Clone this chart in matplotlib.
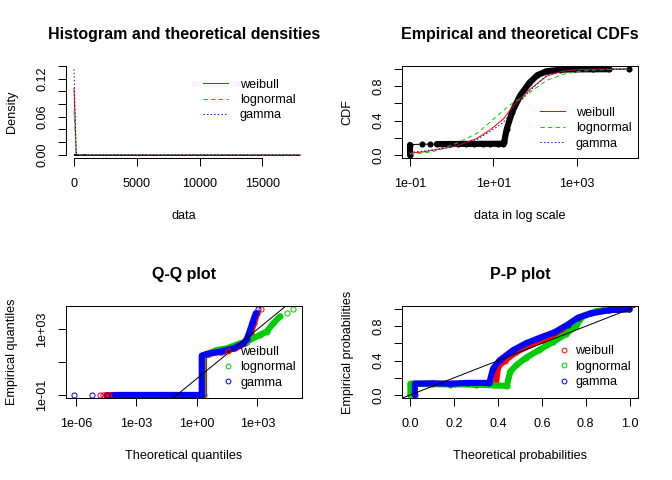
import matplotlib
matplotlib.use("Agg")
import matplotlib.pyplot as plt
from matplotlib.lines import Line2D

plt.rcParams['font.family'] = ['Liberation Sans', 'DejaVu Sans']
plt.rcParams['lines.scale_dashes'] = False
plt.rcParams['axes.linewidth'] = 0.75

DIST_NAMES = ['weibull', 'lognormal', 'gamma']
DIST_COLORS = ['#FF0000', '#00CD00', '#0000FF']
DIST_LINES = ['-', (0, (3.2, 2.5)), (0, (1.0, 1.7))]

# --- histogram and theoretical densities ---
HIST_BREAKS = [0, 1000, 2000, 3000, 4000, 5000, 6000, 7000, 8000, 9000,
               10000, 11000, 12000, 13000, 14000, 15000, 16000, 17000, 18000]
HIST_DENSITY = [0.00099, 0.000005, 0.000002, 0.000001, 0.000001, 0.0, 0.0, 0.0, 0.0,
                0.0, 0.0, 0.0, 0.0, 0.0, 0.0, 0.0, 0.0, 0.000001]
DENS_X = [0.1, 180, 360, 18000]
DENS_WEIBULL = [0.105, 0.0008, 0.0001, 0.0]
DENS_LOGNORMAL = [0.069, 0.0012, 0.0003, 0.0]
DENS_GAMMA = [0.135, 0.0006, 0.0001, 0.0]

# --- empirical and theoretical CDFs ---
ECDF_X = [0.1, 0.1, 0.19, 0.30, 0.44, 0.6, 0.9, 1.4, 2.2, 3.5, 5.5, 8.5, 13, 17.0,
          18.2, 20.9, 28.2, 43.7, 72.9, 114, 191, 398, 900, 2500, 6000, 17500]
ECDF_P = [0.0, 0.12, 0.124, 0.125, 0.126, 0.126, 0.127, 0.127, 0.128, 0.128, 0.129,
          0.129, 0.13, 0.13, 0.15, 0.30, 0.50, 0.69, 0.84, 0.93, 0.976, 0.993, 0.997,
          0.998, 0.999, 1.0]
ECDF_DENSE = [(0, 2), (4, 25)]

CDF_X = [0.1, 0.21, 0.5, 1.3, 4, 8.3, 17.5, 30, 76, 191, 480, 1200, 3000, 17500]
CDF_WEIBULL = [0.02, 0.035, 0.065, 0.104, 0.19, 0.29, 0.42, 0.57, 0.765, 0.92, 0.977, 0.995, 1.0, 1.0]
CDF_LOGNORMAL = [0.01, 0.02, 0.055, 0.135, 0.25, 0.38, 0.52, 0.61, 0.73, 0.87, 0.94, 0.977, 0.99, 1.0]
CDF_GAMMA = [0.03, 0.045, 0.07, 0.105, 0.18, 0.27, 0.38, 0.53, 0.75, 0.93, 0.985, 0.998, 1.0, 1.0]

# --- Q-Q plot: theoretical vs empirical quantiles ---
QQ_WEIBULL_THEO = [1.55e-5, 2.3e-5, 3.2e-5, 2.24, 2.24, 4.0, 17.8, 79, 240, 355, 468, 676, 1000, 1585]
QQ_WEIBULL_EMP = [0.1, 0.1, 0.1, 0.1, 25, 32, 44, 69, 138, 251, 575, 2340, 9550, 17500]
QQ_WEIBULL_DENSE = [(2, 13)]
QQ_LOGNORMAL_THEO = [3e-4, 1.95, 1.95, 3.5, 9.5, 30, 138, 295, 1350, 2900, 6200, 13200, 28200, 61700]
QQ_LOGNORMAL_EMP = [0.1, 0.1, 25, 32, 55, 69, 138, 178, 457, 724, 2340, 6030, 10500, 17500]
QQ_LOGNORMAL_DENSE = [(0, 12)]
QQ_GAMMA_THEO = [7.9e-7, 6.0e-6, 3.3e-5, 5.9e-5, 8.7e-5, 3.2e-4, 0.02, 1.74, 1.74, 3.1, 14, 65,
                 200, 295, 385, 562, 832, 1120]
QQ_GAMMA_EMP = [0.1, 0.1, 0.1, 0.1, 0.1, 0.1, 0.1, 0.1, 25, 32, 44, 69, 138, 251, 575, 2340, 9550, 17500]
QQ_GAMMA_DENSE = [(4, 17)]

# --- P-P plot: theoretical vs empirical probabilities ---
PP_WEIBULL_THEO = [0.01, 0.01, 0.10, 0.20, 0.30, 0.39, 0.40, 0.43, 0.483, 0.544, 0.604, 0.665,
                   0.726, 0.771, 0.82, 0.88, 0.999]
PP_WEIBULL_EMP = [0.0, 0.13, 0.125, 0.13, 0.12, 0.13, 0.33, 0.40, 0.50, 0.577, 0.64, 0.71,
                  0.81, 0.90, 0.95, 0.985, 1.0]
PP_LOGNORMAL_THEO = [0.0, 0.0, 0.08, 0.18, 0.28, 0.38, 0.44, 0.455, 0.483, 0.528, 0.589, 0.65,
                     0.71, 0.756, 0.787, 0.847, 0.90, 0.999]
PP_LOGNORMAL_EMP = [0.0, 0.13, 0.13, 0.12, 0.125, 0.11, 0.105, 0.27, 0.346, 0.434, 0.527, 0.615,
                    0.71, 0.807, 0.92, 0.975, 0.995, 1.0]
PP_GAMMA_THEO = [0.02, 0.02, 0.10, 0.18, 0.26, 0.36, 0.377, 0.407, 0.467, 0.528, 0.589, 0.657,
                 0.718, 0.764, 0.824, 0.908, 0.999]
PP_GAMMA_EMP = [0.0, 0.13, 0.135, 0.13, 0.14, 0.14, 0.307, 0.403, 0.519, 0.603, 0.665, 0.73,
                0.82, 0.90, 0.95, 0.988, 1.0]

W, H, DPI = 672, 480, 96
PLOT_LEFT, PLOT_TOP, PLOT_W, PLOT_H = 65.7, 65.7, 236.6, 92.6
COL_STEP, ROW_STEP = 336, 240
TEXT_SIZE = 9.5
POINT_SIZE = 4.6

fig = plt.figure(figsize=(W / DPI, H / DPI), dpi=DPI)


def panel(col, row, title, xlabel, ylabel):
    left = PLOT_LEFT + col * COL_STEP
    top = PLOT_TOP + row * ROW_STEP
    ax = fig.add_axes([left / W, 1 - (top + PLOT_H) / H, PLOT_W / W, PLOT_H / H])
    cx = (left + PLOT_W / 2) / W
    fig.text(cx, 1 - (top - 26.4) / H, title, ha='center', va='baseline',
             fontsize=12, fontweight='bold')
    fig.text(cx, 1 - (top + 153.6) / H, xlabel, ha='center', va='baseline', fontsize=TEXT_SIZE)
    fig.text((left - 50.9) / W, 1 - (top + PLOT_H / 2) / H, ylabel, rotation=90,
             rotation_mode='anchor', ha='center', va='baseline', fontsize=TEXT_SIZE)
    return ax


def style_ticks(ax):
    ax.tick_params(direction='out', length=6.3, width=0.75, labelsize=TEXT_SIZE, colors='black')
    ax.tick_params(axis='x', pad=8.6)
    ax.tick_params(axis='y', pad=6.8)
    ax.set_xticks([], minor=True)
    ax.set_yticks([], minor=True)


def add_legend(ax, handles, x, y, handlelength, handletextpad):
    ax.legend(handles=handles, labels=DIST_NAMES, loc='upper left', bbox_to_anchor=(x, y),
              frameon=False, fontsize=TEXT_SIZE, handlelength=handlelength,
              handletextpad=handletextpad, labelspacing=0.27, borderpad=0,
              borderaxespad=0, numpoints=1)


def dense_points(ax, xs, ys, ranges, color, filled):
    # many overlapping points read as a solid band, plus the points themselves
    for a, b in ranges:
        ax.plot(xs[a:b], ys[a:b], color=color, lw=POINT_SIZE, solid_capstyle='round',
                solid_joinstyle='round')
    if filled:
        ax.plot(xs, ys, 'o', color=color, ms=POINT_SIZE, mew=0)
    else:
        ax.plot(xs, ys, 'o', mfc='none', mec=color, ms=POINT_SIZE - 0.75, mew=0.75)


line_handles = [Line2D([], [], color=c, ls=s, lw=0.75) for c, s in zip(DIST_COLORS, DIST_LINES)]
point_handles = [Line2D([], [], color=c, ls='none', marker='o', mfc='none', ms=3.6, mew=0.75)
                 for c in DIST_COLORS]

# Histogram and theoretical densities
ax1 = panel(0, 0, 'Histogram and theoretical densities', 'data', 'Density')
widths = [b - a for a, b in zip(HIST_BREAKS[:-1], HIST_BREAKS[1:])]
ax1.bar(HIST_BREAKS[:-1], HIST_DENSITY, width=widths, align='edge', fill=False,
        edgecolor='black', linewidth=0.75)
for dens, c, s in zip([DENS_WEIBULL, DENS_LOGNORMAL, DENS_GAMMA], DIST_COLORS, DIST_LINES):
    ax1.plot(DENS_X, dens, color=c, ls=s, lw=0.75)
ax1.set_xlim(-660, 18180)
ax1.set_ylim(-0.0054, 0.1405)
ax1.spines['top'].set_visible(False)
ax1.spines['right'].set_visible(False)
ax1.spines['left'].set_bounds(0, 0.14)
ax1.spines['bottom'].set_bounds(0, 15000)
ax1.set_xticks([0, 5000, 10000, 15000], labels=['0', '5000', '10000', '15000'])
ax1.set_yticks([0, 0.02, 0.04, 0.06, 0.08, 0.10, 0.12, 0.14],
               labels=['0.00', '', '', '0.06', '', '', '0.12', ''], rotation=90, va='center')
style_ticks(ax1)
add_legend(ax1, line_handles, 0.5816, 0.861, 1.97, 0.92)

# Empirical and theoretical CDFs
ax2 = panel(1, 0, 'Empirical and theoretical CDFs', 'data in log scale', 'CDF')
ax2.set_xscale('log')
ax2.plot(ECDF_X, ECDF_P, color='black', lw=0.75)
dense_points(ax2, ECDF_X, ECDF_P, ECDF_DENSE, 'black', True)
for cdf, c, s in zip([CDF_WEIBULL, CDF_LOGNORMAL, CDF_GAMMA], DIST_COLORS, DIST_LINES):
    ax2.plot(CDF_X, cdf, color=c, ls=s, lw=0.75, zorder=3)
ax2.set_xlim(10 ** -1.199, 10 ** 4.478)
ax2.set_ylim(-0.04, 1.04)
ax2.set_xticks([0.1, 10, 1000], labels=['1e-01', '1e+01', '1e+03'])
ax2.set_yticks([0, 0.2, 0.4, 0.6, 0.8, 1.0], labels=['0.0', '', '0.4', '', '0.8', ''],
               rotation=90, va='center')
style_ticks(ax2)
add_legend(ax2, line_handles, 0.5845, 0.5567, 1.97, 0.845)

# Q-Q plot
ax3 = panel(0, 1, 'Q-Q plot', 'Theoretical quantiles', 'Empirical quantiles')
ax3.set_xscale('log')
ax3.set_yscale('log')
qq = [(QQ_WEIBULL_THEO, QQ_WEIBULL_EMP, QQ_WEIBULL_DENSE),
      (QQ_LOGNORMAL_THEO, QQ_LOGNORMAL_EMP, QQ_LOGNORMAL_DENSE),
      (QQ_GAMMA_THEO, QQ_GAMMA_EMP, QQ_GAMMA_DENSE)]
for (tq, eq, rng), c in zip(qq, DIST_COLORS):
    dense_points(ax3, tq, eq, rng, c, False)
ax3.axline((1, 1), (100, 100), color='black', lw=0.75, zorder=4)
ax3.set_xlim(10 ** -6.511, 10 ** 5.231)
ax3.set_ylim(10 ** -1.201, 10 ** 4.437)
ax3.set_xticks([1e-6, 1e-3, 1, 1e3], labels=['1e-06', '1e-03', '1e+00', '1e+03'])
ax3.set_yticks([0.1, 10, 1000], labels=['1e-01', '', '1e+03'], rotation=90, va='center')
style_ticks(ax3)
add_legend(ax3, point_handles, 0.6605, 0.564, 1.0, 0.43)

# P-P plot
ax4 = panel(1, 1, 'P-P plot', 'Theoretical probabilities', 'Empirical probabilities')
pp = [(PP_WEIBULL_THEO, PP_WEIBULL_EMP), (PP_LOGNORMAL_THEO, PP_LOGNORMAL_EMP),
      (PP_GAMMA_THEO, PP_GAMMA_EMP)]
for (tp, ep), c in zip(pp, DIST_COLORS):
    dense_points(ax4, tp, ep, [(0, len(tp))], c, False)
ax4.axline((0, 0), (1, 1), color='black', lw=0.75, zorder=4)
ax4.set_xlim(-0.04, 1.04)
ax4.set_ylim(-0.04, 1.04)
ax4.set_xticks([0, 0.2, 0.4, 0.6, 0.8, 1.0], labels=['0.0', '0.2', '0.4', '0.6', '0.8', '1.0'])
ax4.set_yticks([0, 0.2, 0.4, 0.6, 0.8, 1.0], labels=['0.0', '', '0.4', '', '0.8', ''],
               rotation=90, va='center')
style_ticks(ax4)
add_legend(ax4, point_handles, 0.658, 0.5718, 1.0, 0.42)

fig.savefig('out.png', dpi=DPI)
